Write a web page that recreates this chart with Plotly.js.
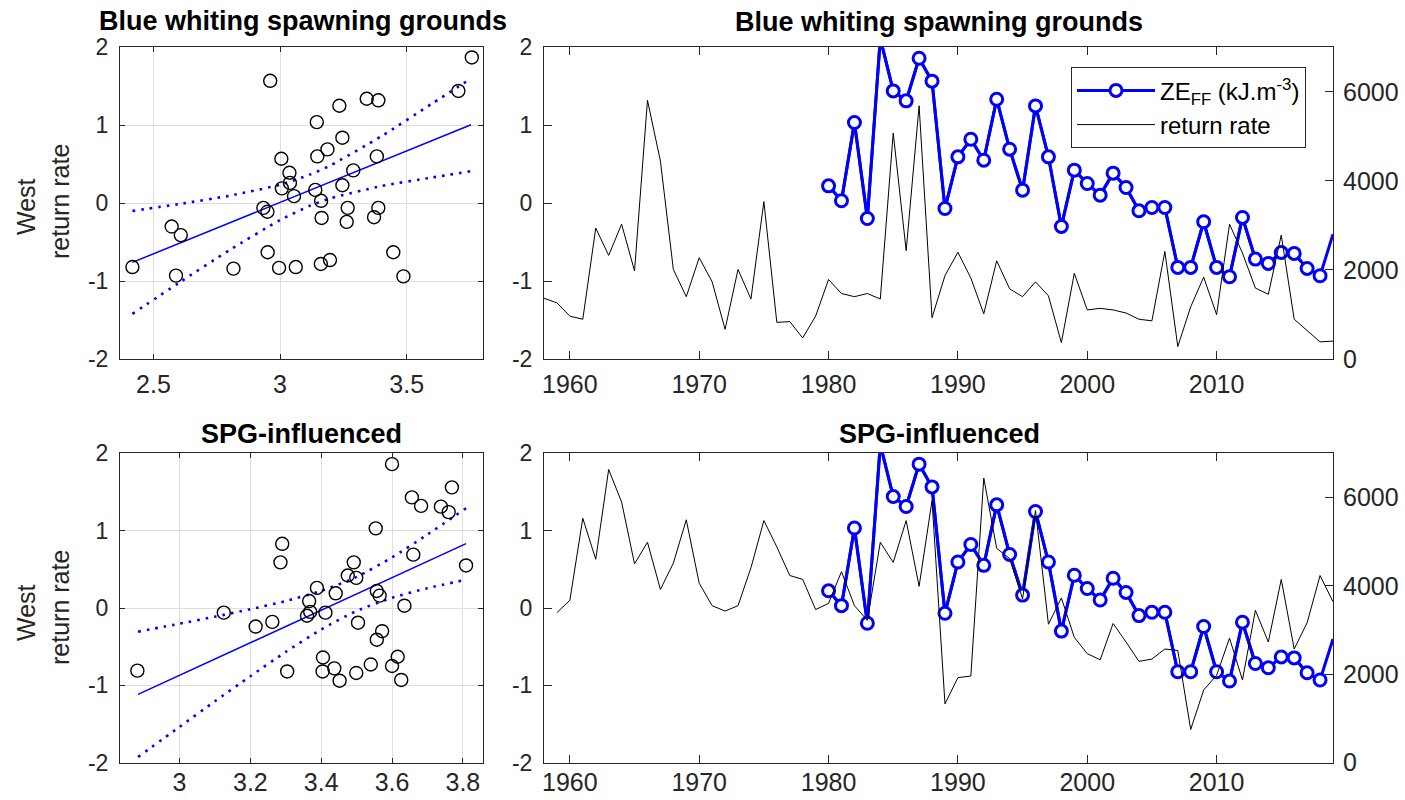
<!DOCTYPE html>
<html><head><meta charset="utf-8">
<script src="https://cdn.plot.ly/plotly-3.0.1.min.js"></script>
<style>html,body{margin:0;padding:0;background:#fff}#chart{width:1405px;height:800px}</style>
</head><body><div id="chart"></div>
<script>
// ---------- data ----------
const yearsBW = [1958,1959,1960,1961,1962,1963,1964,1965,1966,1967,1968,1969,1970,1971,1972,1973,1974,1975,1976,1977,1978,1979,1980,1981,1982,1983,1984,1985,1986,1987,1988,1989,1990,1991,1992,1993,1994,1995,1996,1997,1998,1999,2000,2001,2002,2003,2004,2005,2006,2007,2008,2009,2010,2011,2012,2013,2014,2015,2016,2017,2018,2019];
const returnBW = [-1.22,-1.28,-1.45,-1.49,-0.32,-0.67,-0.27,-0.87,1.32,0.54,
  -0.85,-1.20,-0.70,-1.01,-1.62,-0.85,-1.23,0.02,-1.53,-1.52,
  -1.73,-1.45,-0.98,-1.16,-1.20,-1.16,-1.23,0.90,-0.61,1.25,
  -1.47,-0.93,-0.63,-0.96,-1.42,-0.74,-1.10,-1.20,-1.01,-1.19,
  -1.79,-0.90,-1.37,-1.35,-1.37,-1.41,-1.49,-1.51,-0.62,-1.84,
  -1.33,-0.95,-1.43,-0.27,-0.64,-1.09,-1.17,-0.41,-1.49,-1.63,
  -1.78,-1.77];
const yearsSPG = [1959,1960,1961,1962,1963,1964,1965,1966,1967,1968,1969,1970,1971,1972,1973,1974,1975,1976,1977,1978,1979,1980,1981,1982,1983,1984,1985,1986,1987,1988,1989,1990,1991,1992,1993,1994,1995,1996,1997,1998,1999,2000,2001,2002,2003,2004,2005,2006,2007,2008,2009,2010,2011,2012,2013,2014,2015,2016,2017,2018,2019];
const returnSPG = [-0.06,0.10,1.16,0.63,1.79,1.37,0.57,0.85,0.24,0.58,
  1.14,0.32,0.03,-0.04,0.03,0.52,1.13,0.79,0.42,0.37,
  -0.02,0.06,0.47,0.03,-0.16,0.85,0.59,1.13,0.28,1.39,
  -1.24,-0.90,-0.88,1.68,0.77,0.64,0.12,1.26,-0.21,0.13,
  -0.38,-0.59,-0.67,-0.20,-0.44,-0.69,-0.66,-0.53,-0.55,-1.57,
  -1.06,-0.87,-0.39,-0.93,-0.03,-0.44,0.37,-0.53,-0.19,0.42,
  0.08];
const yearsZE = [1980,1981,1982,1983,1984,1985,1986,1987,1988,1989,1990,1991,1992,1993,1994,1995,1996,1997,1998,1999,2000,2001,2002,2003,2004,2005,2006,2007,2008,2009,2010,2011,2012,2013,2014,2015,2016,2017,2018,2019];
const zeFF = [3889,3553,5310,3156,7200,6021,5797,6754,6240,3381,
  4540,4936,4465,5834,4712,3792,5684,4540,2977,4241,
  3942,3680,4174,3852,3328,3403,3403,2057,2057,3082,
  2057,1847,3179,2244,2147,2393,2371,2034,1870,2800];

const scatterBWx = [3.757,2.961,3.704,3.342,3.388,3.234,3.145,3.246,3.187,3.147,3.382,3.005,3.289,3.037,3.039,3.246,3.007,3.139,3.055,3.162,2.934,2.950,3.267,3.388,3.371,3.164,3.263,2.572,2.608,2.951,3.447,3.197,3.161,2.417,2.816,2.996,3.062,2.589,3.487];
const scatterBWy = [1.87,1.57,1.44,1.34,1.32,1.25,1.04,0.84,0.69,0.60,0.60,0.57,0.42,0.39,0.26,0.23,0.19,0.17,0.09,0.03,-0.06,-0.11,-0.06,-0.06,-0.18,-0.19,-0.24,-0.30,-0.41,-0.63,-0.63,-0.73,-0.78,-0.82,-0.84,-0.83,-0.82,-0.93,-0.94];
const scatterSPGx = [3.600,3.769,3.656,3.682,3.738,3.760,3.554,3.290,3.660,3.285,3.809,3.492,3.475,3.499,3.388,3.441,3.557,3.565,3.366,3.635,3.125,3.369,3.360,3.412,3.262,3.215,3.504,3.572,3.557,3.405,3.616,2.881,3.304,3.404,3.437,3.540,3.499,3.600,3.452,3.626];
const scatterSPGy = [1.86,1.56,1.43,1.32,1.31,1.24,1.03,0.83,0.69,0.59,0.55,0.59,0.42,0.39,0.26,0.19,0.22,0.16,0.09,0.03,-0.06,-0.05,-0.10,-0.06,-0.18,-0.24,-0.19,-0.30,-0.41,-0.64,-0.63,-0.81,-0.82,-0.82,-0.78,-0.73,-0.84,-0.75,-0.94,-0.93];

// fitted line and 95% bounds (x positions and values)
const fitBWx     = [2.417, 2.60, 2.80, 3.00, 3.12, 3.20, 3.40, 3.60, 3.754];
const fitBWmid   = [-0.760, -0.518, -0.254, 0.010, 0.169, 0.274, 0.539, 0.803, 1.006];
const fitBWup    = [-0.100, -0.012, 0.095, 0.237, 0.369, 0.486, 0.859, 1.277, 1.600];
const fitBWlow   = [-1.420, -1.024, -0.603, -0.217, -0.031, 0.062, 0.219, 0.329, 0.410];
const fitSPGx    = [2.883, 3.00, 3.10, 3.20, 3.30, 3.40, 3.50, 3.60, 3.70, 3.809];
const fitSPGmid  = [-1.116, -0.870, -0.659, -0.449, -0.239, -0.028, 0.182, 0.393, 0.603, 0.832];
const fitSPGup   = [-0.306, -0.203, -0.112, -0.016, 0.090, 0.221, 0.402, 0.654, 0.950, 1.290];
const fitSPGlow  = [-1.926, -1.537, -1.206, -0.882, -0.568, -0.277, -0.038, 0.132, 0.256, 0.365];

const yTickVals = [-2,-1,0,1,2];
const yTickText = ['-2','-1','0','1','2'];
const bwXTicks = [2.5,3,3.5];
const bwXText = ['2.5','3','3.5'];
const spgXTicks = [3,3.2,3.4,3.6,3.8];
const spgXText = ['3','3.2','3.4','3.6','3.8'];
const yearTicks = [1960,1970,1980,1990,2000,2010];
const zeTicks = [0,2000,4000,6000];

const titleTop = 'Blue whiting spawning grounds';
const titleBottom = 'SPG-influenced';
const zeName = 'ZE<sub>FF</sub> (kJ.m<sup>-3</sup>)';
const rrName = 'return rate';

const BLUE = '#0000ff';
const AX = '#262626';
const FONT = 'Liberation Sans, Arial, Helvetica, sans-serif';

function scatterTraces(x, y, fx, fmid, fup, flow, xa, ya) {
  const dotted = {color: BLUE, width: 2.6, dash: '2.6px,6px', shape: 'spline', smoothing: 0.6};
  return [
    {x: fx, y: fup, xaxis: xa, yaxis: ya, mode: 'lines', type: 'scatter', showlegend: false, line: dotted},
    {x: fx, y: flow, xaxis: xa, yaxis: ya, mode: 'lines', type: 'scatter', showlegend: false, line: dotted},
    {x: fx, y: fmid, xaxis: xa, yaxis: ya, mode: 'lines', type: 'scatter', showlegend: false,
     line: {color: BLUE, width: 1.5}},
    {x: x, y: y, xaxis: xa, yaxis: ya, mode: 'markers', type: 'scatter', showlegend: false,
     marker: {symbol: 'circle-open', size: 13, color: '#000', line: {width: 1.4}}}
  ];
}

const xMax = 2019;
const zeMarkYears = yearsZE.filter(v => v < xMax);
const zeMarkVals = zeFF.filter((v, i) => yearsZE[i] < xMax);

function timeTraces(xa, yRight, yLeft, yrs, ret, legend) {
  return [
    {x: yearsZE, y: zeFF, xaxis: xa, yaxis: yRight, mode: 'lines', type: 'scatter', showlegend: false,
     line: {color: BLUE, width: 3}},
    {x: zeMarkYears, y: zeMarkVals, xaxis: xa, yaxis: yRight, mode: 'lines+markers', type: 'scatter',
     name: zeName, showlegend: legend,
     line: {color: BLUE, width: 3},
     marker: {symbol: 'circle', size: 12, color: '#fff', line: {color: BLUE, width: 3}}},
    {x: yrs, y: ret, xaxis: xa, yaxis: yLeft, mode: 'lines', type: 'scatter', name: rrName,
     showlegend: legend, line: {color: '#000', width: 1}}
  ];
}

const data = [].concat(
  scatterTraces(scatterBWx, scatterBWy, fitBWx, fitBWmid, fitBWup, fitBWlow, 'x', 'y'),
  timeTraces('x2', 'y2', 'y3', yearsBW, returnBW, true),
  scatterTraces(scatterSPGx, scatterSPGy, fitSPGx, fitSPGmid, fitSPGup, fitSPGlow, 'x3', 'y4'),
  timeTraces('x4', 'y5', 'y6', yearsSPG, returnSPG, false)
);

// ---------- layout ----------
const W = 1405, H = 800;
const px = v => v / W, py = v => 1 - v / H;
const domTopY = [py(359), py(47.3)];
const domBotY = [py(762.7), py(453.3)];
const domLX = [px(120), px(482.7)];
const domRX = [px(544), px(1333)];

const base = {showline: true, linecolor: AX, linewidth: 1, ticks: 'inside', tickcolor: AX,
  tickwidth: 1, zeroline: false, showgrid: false, color: AX};
const xTickFont = {family: FONT, size: 25, color: AX};
const yTickFont = {family: FONT, size: 23, color: AX};

function scatterX(anchor, range, tv, tt, so) {
  return Object.assign({}, base, {domain: domLX, anchor: anchor, range: range, tickvals: tv, ticktext: tt,
    mirror: 'ticks', ticklen: 5, showgrid: true, gridcolor: '#dedede', gridwidth: 1,
    tickfont: xTickFont, ticklabelstandoff: so});
}
function scatterY(anchor, dom) {
  return Object.assign({}, base, {domain: dom, anchor: anchor, range: [-2, 2], tickvals: yTickVals,
    ticktext: yTickText, mirror: 'ticks', ticklen: 5, showgrid: true, gridcolor: '#dedede',
    tickfont: yTickFont, ticklabelstandoff: 6});
}
function timeX(anchor, so) {
  return Object.assign({}, base, {domain: domRX, anchor: anchor, range: [1958, xMax], tickvals: yearTicks,
    mirror: 'ticks', ticklen: 8, tickfont: xTickFont, ticklabelstandoff: so});
}
function rightY(anchor, dom) {
  return Object.assign({}, base, {domain: dom, anchor: anchor, side: 'right', range: [0, 7000],
    tickvals: zeTicks, ticklen: 8, tickfont: xTickFont, ticklabelstandoff: 4});
}
function leftY(anchor, over) {
  return Object.assign({}, base, {anchor: anchor, overlaying: over, side: 'left', range: [-2, 2],
    tickvals: yTickVals, ticktext: yTickText, ticklen: 8, tickfont: yTickFont, ticklabelstandoff: 6});
}

const titleFont = {family: FONT, size: 27, color: '#000'};
const yTitleFont = {family: FONT, size: 25, color: AX};
function ann(text, x, y, font, angle) {
  return {text: text, x: px(x), y: py(y), xref: 'paper', yref: 'paper', showarrow: false,
    xanchor: 'center', yanchor: 'middle', font: font, textangle: angle || 0};
}

const layout = {
  width: W, height: H,
  margin: {l: 0, r: 0, t: 0, b: 0},
  paper_bgcolor: '#fff', plot_bgcolor: '#fff',
  font: {family: FONT, color: AX},
  xaxis: scatterX('y', [2.368, 3.80], bwXTicks, bwXText, 3),
  yaxis: scatterY('x', domTopY),
  xaxis2: timeX('y2', 3),
  yaxis2: rightY('x2', domTopY),
  yaxis3: leftY('x2', 'y2'),
  xaxis3: scatterX('y4', [2.832, 3.856], spgXTicks, spgXText, -3),
  yaxis4: scatterY('x3', domBotY),
  xaxis4: timeX('y5', -3),
  yaxis5: rightY('x4', domBotY),
  yaxis6: leftY('x4', 'y5'),
  showlegend: true,
  legend: {x: px(1071), y: py(67.3), xanchor: 'left', yanchor: 'top', bgcolor: '#fff',
    bordercolor: AX, borderwidth: 1, font: {family: FONT, size: 24, color: '#000'},
    itemwidth: 78},
  annotations: [
    ann('<b>' + titleTop + '</b>', 303, 21, titleFont),
    ann('<b>' + titleTop + '</b>', 939, 22, titleFont),
    ann('<b>' + titleBottom + '</b>', 301, 434, titleFont),
    ann('<b>' + titleBottom + '</b>', 939, 434, titleFont),
    ann('West', 26, 206, yTitleFont, -90),
    ann('return rate', 60, 202, yTitleFont, -90),
    ann('West', 26, 612, yTitleFont, -90),
    ann('return rate', 60, 608, yTitleFont, -90)
  ]
};

Plotly.newPlot('chart', data, layout, {displayModeBar: false, staticPlot: true});
</script>
</body></html>
